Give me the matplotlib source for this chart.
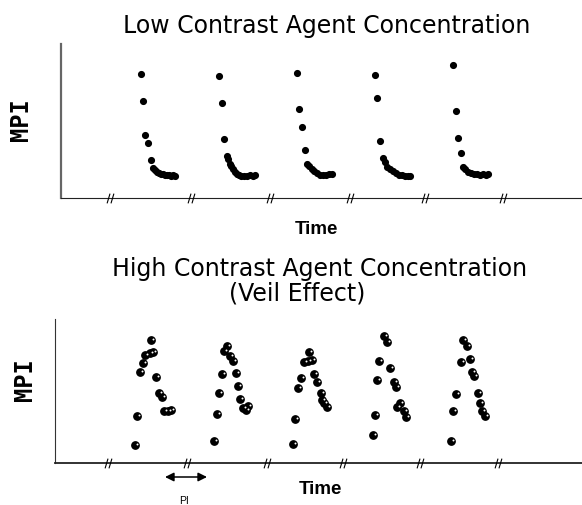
import numpy as np
import matplotlib
matplotlib.use("Agg")
import matplotlib.pyplot as plt
from matplotlib.path import Path
from matplotlib.transforms import offset_copy

# low concentration: time / MPI for the five bursts (arbitrary units)
low_t = [
    [80, 82, 84, 87, 90, 92, 94, 96, 98, 100, 102, 104, 106, 108, 110, 112, 114],
    [158, 161, 163, 166, 167, 169, 170, 172, 174, 176, 178, 180, 183, 186, 189, 192, 194],
    [236, 238, 241, 244, 246, 248, 251, 253, 256, 259, 262, 265, 268, 271],
    [314, 316, 319, 322, 324, 326, 329, 332, 335, 338, 341, 344, 347, 349],
    [392, 395, 397, 400, 402, 404, 407, 410, 413, 416, 419, 422, 425, 427],
]
low_mpi = [
    [124, 97, 63, 55, 38, 30, 28, 26, 25, 24, 24, 23, 23, 23, 22, 23, 22],
    [122, 95, 59, 42, 39, 34, 32, 29, 26, 24, 23, 22, 22, 22, 23, 22, 23],
    [125, 89, 71, 48, 34, 32, 29, 27, 25, 23, 23, 23, 24, 24],
    [123, 100, 57, 40, 36, 31, 29, 27, 25, 23, 23, 22, 22, 22],
    [133, 87, 60, 45, 31, 29, 26, 25, 24, 24, 23, 24, 23, 24],
]
low_breaks = [49, 130, 209, 289, 364, 442]

# high concentration (veil effect)
high_t = [
    [80, 82, 85, 88, 90, 95, 98, 96, 101, 104, 107, 109, 113, 116],
    [159, 162, 164, 167, 169, 172, 175, 178, 181, 183, 185, 188, 191, 193],
    [238, 240, 243, 246, 249, 253, 257, 254, 259, 262, 266, 267, 269, 272],
    [318, 320, 322, 324, 329, 332, 335, 339, 341, 345, 342, 349, 351],
    [396, 398, 401, 406, 408, 412, 415, 417, 419, 423, 425, 427, 430],
]
high_mpi = [
    [18, 47, 91, 100, 108, 110, 111, 123, 86, 70, 66, 52, 52, 53],
    [22, 49, 70, 89, 112, 117, 107, 102, 90, 77, 64, 55, 53, 57],
    [19, 44, 75, 85, 101, 102, 103, 111, 89, 81, 70, 63, 60, 56],
    [28, 48, 83, 102, 127, 121, 95, 81, 76, 60, 56, 52, 46],
    [22, 52, 69, 101, 123, 117, 104, 91, 87, 70, 60, 52, 47],
]
high_breaks = [53, 132, 212, 288, 365, 443]
pi_span = [110, 152]

W, H = 582, 506
fig = plt.figure(figsize=(W / 100, H / 100), dpi=100)

# "//" axis break marker
brk = Path([(-0.7, -1), (-0.1, 1), (0.1, -1), (0.7, 1)],
           [Path.MOVETO, Path.LINETO, Path.MOVETO, Path.LINETO])


def setup(ax, xmax, ymax, ycol):
    ax.set_xlim(0, xmax)
    ax.set_ylim(0, ymax)
    ax.set_xticks([])
    ax.set_yticks([])
    ax.spines["top"].set_visible(False)
    ax.spines["right"].set_visible(False)
    ax.spines["left"].set_color(ycol)
    ax.spines["bottom"].set_color("#222222")
    ax.patch.set_alpha(0)


ax1 = fig.add_axes([61 / W, 1 - 199 / H, 521 / W, 154 / H])
setup(ax1, 521, 154, "#666666")
ax1.spines["left"].set_linewidth(1.6)
for t, m in zip(low_t, low_mpi):
    ax1.scatter(t, m, s=17, color="black", zorder=3)
ax1.plot(low_breaks, np.zeros(len(low_breaks)), ls="none", marker=brk,
         ms=7, mec="black", mew=0.8, clip_on=False, zorder=4)

ax2 = fig.add_axes([55 / W, 1 - 464 / H, 527 / W, 144 / H])
setup(ax2, 527, 144, "#333333")
ax2.spines["bottom"].set_linewidth(1.3)
hl = offset_copy(ax2.transData, fig=fig, x=1.5, y=1.5, units="dots")
for t, m in zip(high_t, high_mpi):
    ax2.scatter(t, m, s=28, color="black", zorder=3)
    ax2.scatter(t, m, s=2, color="white", transform=hl, zorder=4, linewidths=0)
ax2.plot(high_breaks, np.zeros(len(high_breaks)), ls="none", marker=brk,
         ms=7, mec="black", mew=0.8, clip_on=False, zorder=4)
ax2.annotate("", xy=(pi_span[0], -14), xytext=(pi_span[1], -14),
             arrowprops=dict(arrowstyle="<|-|>", color="black", lw=1.1,
                             mutation_scale=13, shrinkA=0, shrinkB=0),
             annotation_clip=False)

# titles and labels
fig.text(327 / W, 1 - 33.5 / H, "Low Contrast Agent Concentration",
         ha="center", va="baseline", fontsize=17, family="DejaVu Sans")
fig.text(320 / W, 1 - 276 / H, "High Contrast Agent Concentration",
         ha="center", va="baseline", fontsize=17, family="DejaVu Sans")
fig.text(297 / W, 1 - 300 / H, "(Veil Effect)",
         ha="center", va="baseline", fontsize=17, family="DejaVu Sans")
fig.text(316 / W, 1 - 230 / H, "Time", ha="center", va="center",
         fontsize=13.5, fontweight="bold", family="Liberation Sans")
fig.text(320 / W, 1 - 490 / H, "Time", ha="center", va="center",
         fontsize=13.5, fontweight="bold", family="Liberation Sans")
fig.text(21 / W, 1 - 120 / H, "MPI", rotation=90, ha="center", va="center",
         fontsize=17, fontweight="bold", family="DejaVu Sans Mono")
fig.text(25 / W, 1 - 380 / H, "MPI", rotation=90, ha="center", va="center",
         fontsize=17, fontweight="bold", family="DejaVu Sans Mono")
fig.text(184 / W, 1 - 501 / H, "PI", ha="center", va="center",
         fontsize=7.5, family="Liberation Sans")

fig.savefig("out.png", dpi=100)
